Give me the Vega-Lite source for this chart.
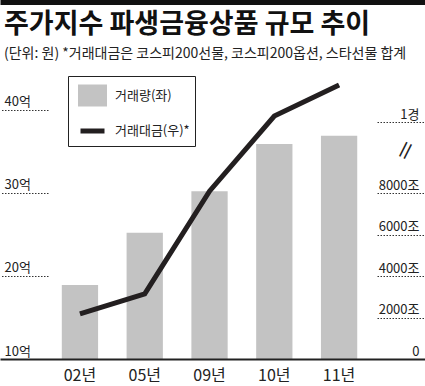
{
  "$schema": "https://vega.github.io/schema/vega-lite/v6.json",
  "width": 425,
  "height": 359,
  "autosize": {"type": "none"},
  "padding": {"left": 0, "top": 0, "right": 0, "bottom": 27},
  "background": "white",
  "title": {
    "text": "주가지수 파생금융상품 규모 추이",
    "subtitle": "(단위: 원) *거래대금은 코스피200선물, 코스피200옵션, 스타선물 합계",
    "anchor": "start",
    "frame": "group",
    "offset": -62,
    "dx": 4,
    "font": "Noto Sans CJK KR",
    "fontSize": 27,
    "fontWeight": "bold",
    "color": "#111111",
    "subtitleFont": "Noto Sans CJK KR",
    "subtitleFontSize": 14,
    "subtitleColor": "#222222",
    "subtitlePadding": 8
  },
  "data": {
    "values": [
      {"year": "02년", "vol": 18.9, "val": 2170},
      {"year": "05년", "vol": 25.2, "val": 3140},
      {"year": "09년", "vol": 30.2, "val": 8050},
      {"year": "10년", "vol": 35.9, "val": 10300},
      {"year": "11년", "vol": 36.9, "val": 11800}
    ]
  },
  "config": {"view": {"stroke": null}, "font": "Noto Sans CJK KR", "axis": {"zindex": 1}},
  "layer": [
    {
      "mark": {"type": "bar", "clip": true},
      "encoding": {
        "x": {
          "field": "year", "type": "ordinal", "sort": null,
          "scale": {"type": "band", "paddingInner": 0.44, "paddingOuter": 1.0275, "align": 0.477},
          "axis": {"orient": "bottom", "title": null, "domainColor": "#222222", "domainWidth": 2, "ticks": false, "labelFontSize": 16, "labelColor": "#222222", "labelPadding": 8, "labelAngle": 0, "labelBaseline": "top", "zindex": 1}
        },
        "y": {
          "field": "vol", "type": "quantitative",
          "scale": {"domain": [10, 53.25], "nice": false, "zero": false},
          "axis": {"orient": "left", "offset": -48, "values": [10, 20, 30, 40], "title": null, "domain": false, "grid": false, "tickSize": 48, "tickDash": [1.5, 1.5], "tickColor": "#333333", "labelAlign": "left", "labelBaseline": "bottom", "labelPadding": -4, "labelOffset": -1, "labelFontSize": 13, "labelColor": "#222222", "labelExpr": "datum.value + '억'"}
        },
        "color": {
          "datum": "거래량(좌)", "type": "nominal",
          "scale": {"domain": ["거래량(좌)", "거래대금(우)*"], "range": ["#c3c3c3", "#231f20"]},
          "legend": {
            "orient": "none", "legendX": 68, "legendY": 76, "title": null, "padding": 5,
            "strokeColor": "#222222", "symbolOffset": 5, "labelOffset": 8,
            "labelFontSize": 13, "labelColor": "#222222", "rowPadding": 2.5, "symbolSize": 576,
            "symbolStrokeWidth": 5,
            "labelExpr": "datum.label + '\u00a0\u00a0'",
            "encode": {
              "symbols": {
                "update": {
                  "shape": {"signal": "datum.value == '거래량(좌)' ? 'M-1,-0.7H1V0.7H-1Z' : 'stroke'"},
                  "fill": {"signal": "datum.value == '거래량(좌)' ? '#c3c3c3' : 'transparent'"},
                  "stroke": {"signal": "datum.value == '거래량(좌)' ? 'transparent' : '#231f20'"}
                }
              }
            }
          }
        }
      }
    },
    {
      "mark": {"type": "line", "strokeWidth": 5, "strokeJoin": "miter"},
      "encoding": {
        "x": {
          "field": "year", "type": "ordinal", "sort": null,
          "axis": {"orient": "top", "title": null, "labels": false, "ticks": false, "domainColor": "#111111", "domainWidth": 9}
        },
        "y": {
          "field": "val", "type": "quantitative",
          "scale": {"type": "linear", "domain": [0, 8000, 10000, 14000], "range": [359, 193, 122.3, 39.3], "nice": false, "zero": false},
          "axis": {
            "orient": "right", "offset": -48, "values": [0, 2000, 4000, 6000, 8000, 9200, 10000], "title": null, "domain": false, "grid": false,
            "tickSize": 48, "tickDash": [1.5, 1.5], "tickColor": "#333333",
            "tickOpacity": {"condition": {"test": "datum.value == 9200", "value": 0}, "value": 1},
            "labelAlign": {"condition": {"test": "datum.value == 9200", "value": "center"}, "value": "right"},
            "labelBaseline": {"condition": {"test": "datum.value == 9200", "value": "middle"}, "value": "bottom"},
            "labelPadding": {"condition": {"test": "datum.value == 9200", "value": -20}, "value": -6},
            "labelOffset": {"condition": {"test": "datum.value == 9200", "value": 0}, "value": -1},
            "labelFontSize": {"condition": {"test": "datum.value == 9200", "value": 22}, "value": 13},
            "labelColor": "#222222",
            "labelExpr": "datum.value == 0 ? '0' : datum.value == 10000 ? '1경' : datum.value == 9200 ? '∥' : datum.value + '조'"
          }
        },
        "color": {"datum": "거래대금(우)*", "type": "nominal"}
      }
    }
  ],
  "resolve": {"scale": {"y": "independent"}, "axis": {"x": "independent"}}
}
